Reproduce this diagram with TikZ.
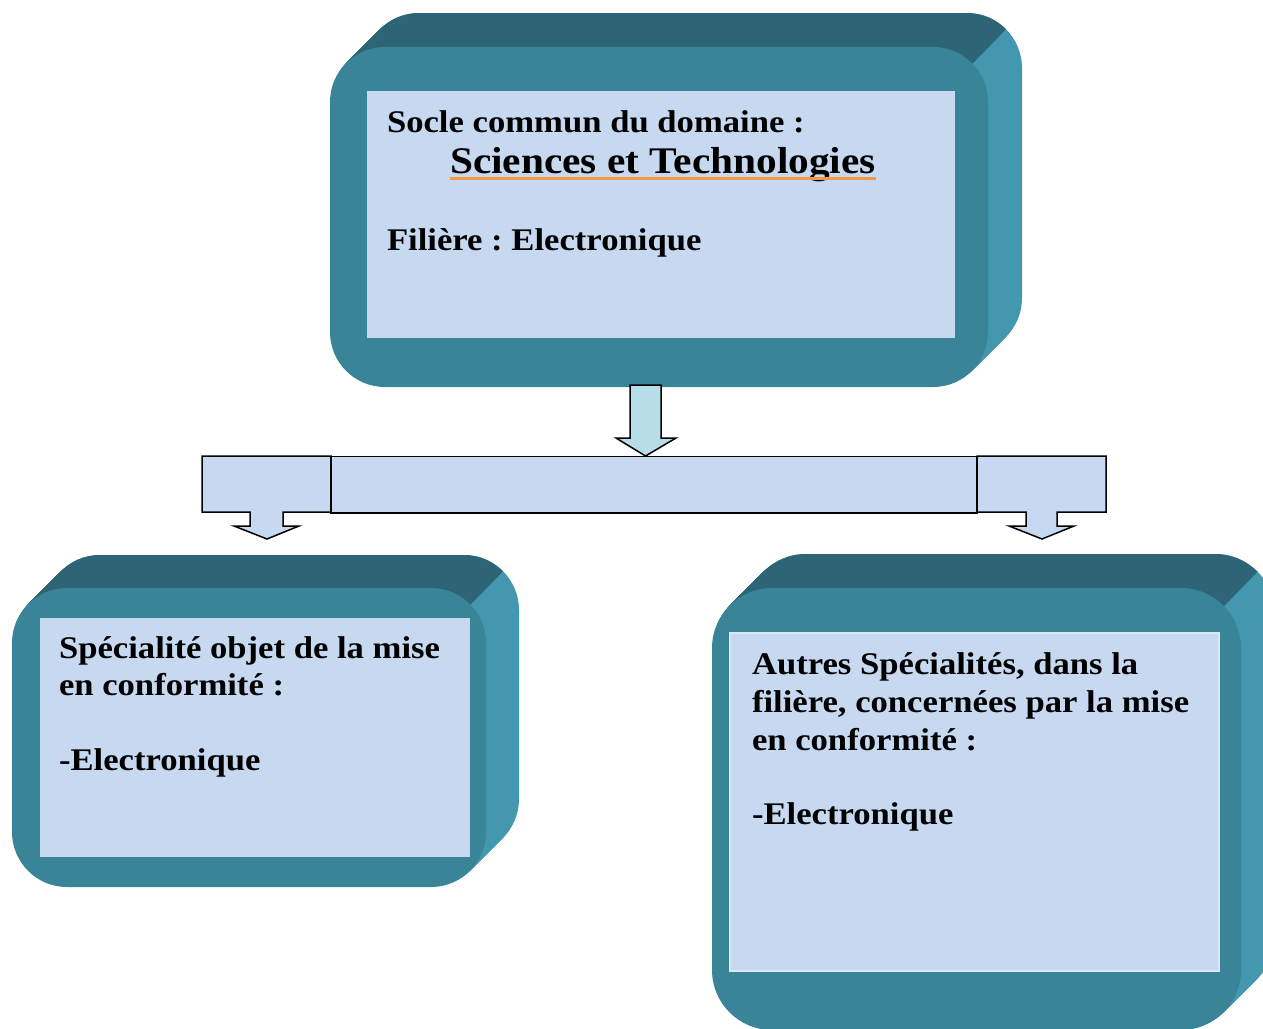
\documentclass[tikz,border=0pt]{standalone}
\usepackage{fontspec}
\newfontfamily\camb[FakeStretch=1.1]{Liberation Serif}
\usetikzlibrary{calc}
\frenchspacing
\definecolor{frontc}{HTML}{3A8498}
\definecolor{topc}{HTML}{2E6576}
\definecolor{sidec}{HTML}{4397AF}
\definecolor{panelc}{HTML}{C6D9F1}
\definecolor{arrowc}{HTML}{B7DDE8}
\definecolor{ulc}{HTML}{F79646}
\definecolor{panelline}{HTML}{DCE6F2}
\tikzset{
  panel/.style={fill=panelc, inner sep=0pt, outer sep=0pt, anchor=north west},
  txt/.style={inner sep=0pt, outer sep=0pt, anchor=base west, font=\camb\bfseries\frenchspacing\fontsize{31.5}{37.5}\selectfont},
  bigtxt/.style={inner sep=0pt, outer sep=0pt, anchor=base west, font=\camb\bfseries\frenchspacing\fontsize{37.6}{44}\selectfont},
  arrowshape/.style={fill=panelc, draw=black, line width=1.5pt, line join=miter},
  underl/.style={draw=ulc, line width=3pt}
}
\newcommand\cubebox[6]{%
  \foreach \k in {1,...,#6} {\fill[sidec, rounded corners=#5pt] ({#1+\k},{#2-\k}) rectangle ({#3+\k},{#4-\k});}
  \begin{scope}
    \clip ({#3-#5-1500},{#2+#5+1500}) -- ({#3-#5+1500},{#2+#5-1500}) -- ({#3-#5-1500},{#2+#5-1500}) -- cycle;
    \foreach \k in {1,...,#6} {\fill[topc, rounded corners=#5pt] ({#1+\k},{#2-\k}) rectangle ({#3+\k},{#4-\k});}
  \end{scope}
  \fill[frontc, rounded corners=#5pt] (#1,#2) rectangle (#3,#4);
}
\begin{document}
\begin{tikzpicture}[x=1pt,y=-1pt]
\fill[white] (0,0) rectangle (1263,1028);
\useasboundingbox (0,0) rectangle (1263,1028);
\clip (0,0) rectangle (1263,1028);

% top box
\cubebox{330}{47}{988}{387}{55}{34}
\node[panel, minimum width=588pt, minimum height=247pt] (toppanel) at (367,91) {};
\node[txt] (t1) at (387,132) {Socle commun du domaine :};
\node[bigtxt] (t2) at (450,173) {Sciences et Technologies};
\draw[underl] ($(t2.base west)+(0,5)$) -- ($(t2.base east)+(0,5)$);
\node[txt] (t3) at (387,250) {Filière : Electronique};

% left box
\cubebox{12}{588}{486}{887}{55}{33}
\node[panel, minimum width=430pt, minimum height=239pt] (leftpanel) at (40,618) {};
\node[txt] (l1) at (59,658) {Spécialité objet de la mise};
\node[txt] (l2) at (59,695) {en conformité :};
\node[txt] (l3) at (59,770) {-Electronique};

% right box
\cubebox{712}{588}{1241}{1030}{60}{34}
\node[panel, draw=panelline, line width=1.5pt, minimum width=489pt, minimum height=338pt] (rightpanel) at (730,633) {};
\node[txt] (r1) at (752,674) {Autres Spécialités, dans la};
\node[txt] (r2) at (752,712) {filière, concernées par la mise};
\node[txt] (r3) at (752,750) {en conformité :};
\node[txt] (r4) at (752,824) {-Electronique};

% arrows
\draw[arrowshape, fill=arrowc] (630,385) -- (661,385) -- (661,438) -- (676,438) -- (645.5,456) -- (616,438) -- (630,438) -- cycle;
\draw[arrowshape] (331,456) -- (202,456) -- (202,512) -- (250,512) -- (250,526) -- (234,526) -- (267,539) -- (299,526) -- (283,526) -- (283,512) -- (331,512) -- cycle;
\draw[arrowshape] (977,456) -- (1106,456) -- (1106,512) -- (1057,512) -- (1057,526) -- (1074,526) -- (1042,539) -- (1009,526) -- (1026,526) -- (1026,512) -- (977,512) -- cycle;
\node[arrowshape, inner sep=0pt, outer sep=0pt, anchor=north west, minimum width=646pt, minimum height=56.5pt] (bar) at (331,456.5) {};
\end{tikzpicture}
\end{document}
